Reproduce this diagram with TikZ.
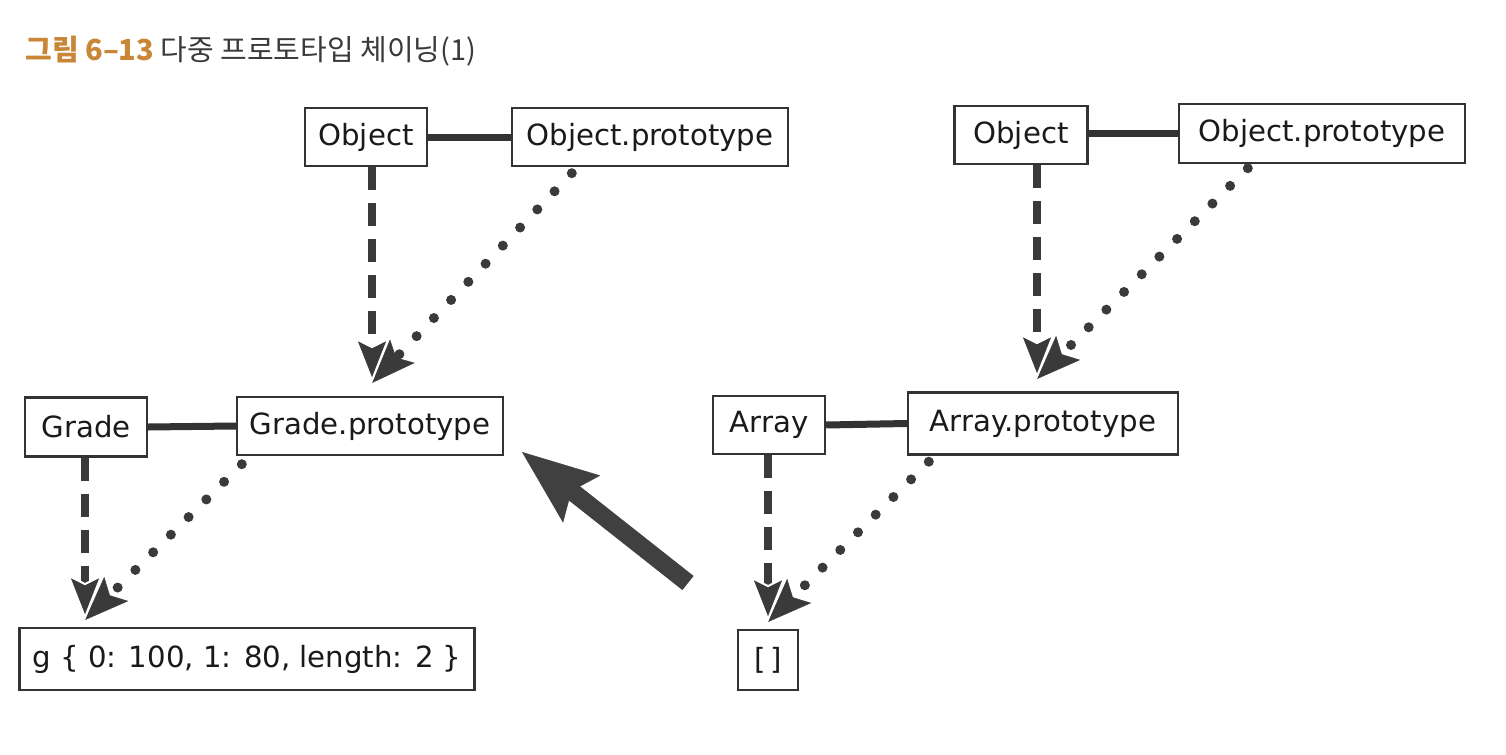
\documentclass[tikz,border=0pt]{standalone}
\usepackage{fontspec}
\usetikzlibrary{arrows.meta,calc}
\newfontfamily\labfont{DejaVu Sans}
\newfontfamily\krfont{Noto Sans CJK KR}
\definecolor{linecol}{HTML}{333333}
\definecolor{arrcol}{HTML}{3A3A3A}
\definecolor{bigcol}{HTML}{404040}
\definecolor{txtcol}{HTML}{1A1A1A}
\definecolor{titleor}{HTML}{C98636}
\definecolor{titlegr}{HTML}{3A3A3A}
\begin{document}
\begin{tikzpicture}[x=0.5pt,y=-0.5pt,
  box/.style={draw=linecol, line width=1.2pt, fill=white, text=txtcol,
    font=\labfont\fontsize{14.6}{17}\selectfont, inner sep=0pt},
  link/.style={draw=linecol, line width=3.5pt},
  dashedarrow/.style={draw=arrcol, line width=4pt, dash pattern=on 11.5pt off 6.5pt,
    -{Stealth[length=23pt,width=18pt,inset=4.5pt,line width=1pt,color=white,fill=arrcol]}},
  dottedarrow/.style={draw=arrcol, line width=5pt, line cap=round, dash pattern=on 0pt off 12.5pt,
    -{Stealth[length=22pt,width=17pt,inset=4.5pt,line width=0.2pt,fill=arrcol]}},
  bigarrow/.style={draw=bigcol, line width=9pt,
    -{Stealth[length=38pt,width=30pt,inset=6.5pt,line width=0.2pt,fill=bigcol]}}
]
\useasboundingbox[fill=white] (0,0) rectangle (1506,755);

% title
\node[anchor=west, inner sep=0pt, font=\krfont\fontsize{14.5}{17}\selectfont] (title) at (25,51)
  {\textcolor{titleor}{\bfseries 그림 6–13}\ \textcolor{titlegr}{다중 프로토타입 체이닝(1)}};

% boxes
\node[box, minimum width=61pt, minimum height=29pt] (obj1) at (366,137) {Object};
\node[box, minimum width=138pt, minimum height=29pt] (op1) at (650,137) {Object.prototype};
\node[box, minimum width=66.5pt, minimum height=29pt] (obj2) at (1021,135) {Object};
\node[box, minimum width=143pt, minimum height=29.5pt] (op2) at (1322,133.5) {Object.prototype};
\node[box, minimum width=61pt, minimum height=29.5pt] (grade) at (86,427) {Grade};
\node[box, minimum width=133pt, minimum height=29pt] (gp) at (370,426) {Grade.prototype};
\node[box, minimum width=56pt, minimum height=29pt] (arr) at (769,425) {Array};
\node[box, minimum width=135pt, minimum height=31pt] (ap) at (1043,423.5) {Array.prototype};
\node[box, minimum width=227.5pt, minimum height=31pt] (g) at (247,659) {g \{ 0: 100, 1: 80, length: 2 \}};
\node[box, minimum width=30pt, minimum height=30pt] (e) at (768,660) {[\,]};

% horizontal links
\draw[link] (obj1.east) -- (op1.west);
\draw[link] (obj2.east |- op2.west) -- (op2.west);
\draw[link] (grade.east) -- (gp.west);
\draw[link] (arr.east) -- (ap.west);

% arrow tips
\coordinate (t1) at (372,383);
\coordinate (t2) at (1037,379);
\coordinate (t3) at (85,620);
\coordinate (t4) at (768,622);

% dotted arrows
\draw[dottedarrow] ([xshift=30.5pt,yshift=-3pt]op1.south west) -- (t1);
\draw[dottedarrow] ([xshift=35pt,yshift=-2pt]op2.south west) -- (t2);
\draw[dottedarrow] ([xshift=3pt,yshift=-4pt]gp.south west) -- (t3);
\draw[dottedarrow] ([xshift=11pt,yshift=-3pt]ap.south west) -- (t4);

% dashed arrows
\draw[dashedarrow] (obj1.south -| t1) -- (t1);
\draw[dashedarrow] (obj2.south -| t2) -- (t2);
\draw[dashedarrow] (grade.south -| t3) -- (t3);
\draw[dashedarrow] (arr.south -| t4) -- (t4);

% big arrow
\coordinate (bs) at (688,583);
\coordinate (be) at (522,452);
\draw[bigarrow] (bs) -- (be);
\end{tikzpicture}
\end{document}
